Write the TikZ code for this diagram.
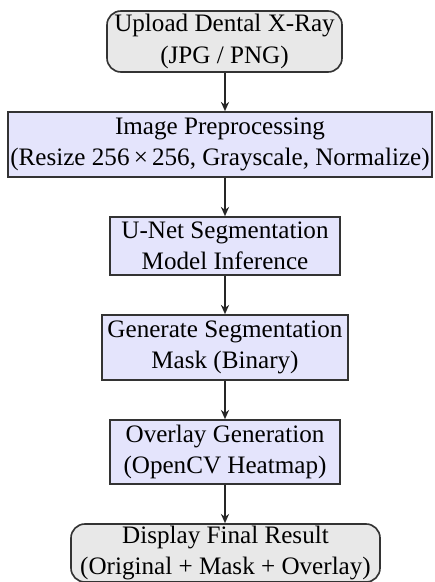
\documentclass[tikz,border=0pt]{standalone}
\usepackage{fontspec}
\setmainfont{Liberation Serif}
\usetikzlibrary{arrows.meta}
\definecolor{termfill}{RGB}{232,232,232}
\definecolor{procfill}{RGB}{228,228,252}
\begin{document}
\begin{tikzpicture}[x=0.43pt,y=-0.43pt,
  base/.style={draw=black!80, line width=0.7pt, align=center, inner sep=0pt,
    font=\fontsize{10.8}{13.4}\selectfont},
  term/.style={base, fill=termfill, rounded corners=6pt},
  proc/.style={base, fill=procfill},
  arr/.style={-{Stealth[length=4pt,width=3.5pt]}, line width=0.7pt, draw=black!85}]
\useasboundingbox (0,0) rectangle (434,582);
\node[term, minimum width={235*0.43pt}, minimum height={61*0.43pt}] (up) at (224.5,41.5)
  {Upload Dental X-Ray\\(JPG / PNG)};
\node[proc, minimum width={424*0.43pt}, minimum height={65*0.43pt}] (pre) at (220,144.5)
  {Image Preprocessing\\(Resize 256\,×\,256, Grayscale, Normalize)};
\node[proc, minimum width={230*0.43pt}, minimum height={58*0.43pt}] (unet) at (225,246)
  {U-Net Segmentation\\Model Inference};
\node[proc, minimum width={246*0.43pt}, minimum height={65*0.43pt}] (gen) at (225,347.5)
  {Generate Segmentation\\Mask (Binary)};
\node[proc, minimum width={230*0.43pt}, minimum height={64*0.43pt}] (ov) at (225,452)
  {Overlay Generation\\(OpenCV Heatmap)};
\node[term, minimum width={309*0.43pt}, minimum height={58*0.43pt}] (disp) at (225.5,553)
  {Display Final Result\\(Original + Mask + Overlay)};
\draw[arr] (up.south -| unet.north) -- (pre.north -| unet.north);
\draw[arr] (pre.south -| unet.north) -- (unet.north);
\draw[arr] (unet.south) -- (gen.north -| unet.south);
\draw[arr] (gen.south -| ov.north) -- (ov.north);
\draw[arr] (ov.south) -- (disp.north -| ov.south);
\end{tikzpicture}
\end{document}
